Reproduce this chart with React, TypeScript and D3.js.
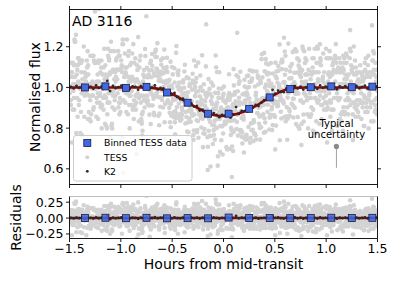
import { useMemo } from "react";
import * as d3 from "d3";

// binned TESS light curve (hours, normalised flux)
const binTimes = [-1.35, -1.15, -0.95, -0.75, -0.55, -0.35, -0.15, 0.05, 0.25, 0.45, 0.65, 0.85, 1.05, 1.25, 1.45];
const binFlux = [1.0, 1.005, 0.998, 1.003, 0.975, 0.925, 0.871, 0.871, 0.895, 0.951, 0.992, 1.001, 1.005, 1.001, 1.004];

// transit model knots
const modelTimes = [-1.5, -0.8, -0.7, -0.6, -0.5, -0.4, -0.3, -0.2, -0.1, 0.0, 0.1, 0.2, 0.3, 0.4, 0.5, 0.6, 0.7, 0.8, 1.5];
const modelFlux = [1.0, 1.0, 0.998, 0.99, 0.968, 0.94, 0.912, 0.885, 0.865, 0.86, 0.866, 0.882, 0.905, 0.935, 0.965, 0.988, 0.998, 1.0, 1.0];

// K2 residuals, milli-flux, in time order over the window
const k2Residuals = [
  3, -5, 8, -2, 6, -9, 1, 4, -7, 10,
  -3, 5, -1, 32, -18, 7, -4, 2, 9, -6,
  0, -8, 5, 3, -11, 6, -2, 8, -5, 1,
  14, -3, 7, 8, 2, 4, -6, 11, -1, -4,
  6, -10, 3, 6, -2, 8, -7, 5, -3, 1,
  -5, 9, 2, -8, 4, -1, 7, -12, 3, 34,
  -4, 6, 1, -7, 10, -2, 5, -9, 0, 4,
  8, -3, 30, 4, 12, -1, -8, 6, 2, -5,
  9, -3, 5, -10, 1, 7, -4, 3, -7, 10,
  -2, 4, -6, 8, 1, -9, 5, -1, 6, -3,
  2, -8, 7, -4, 3, 9, -6, 1, -2, 5,
];

// TESS residuals, two digits each (50.5 = zero); stored by exposure, not by phase
const tessResidualCodes = [
  "48613955447052335846 57426450295347664159 45543862517343563549 60475327584467405263 36554871425750316146",
  "54396549445824534762 41565237694559503457 48634355774051466038 53664549325842615447 39575068445236634855",
  "52446738554961425735 63475370415846285460 39516445563359487243 50623755476641535830 46576940524461365549",
  "64425851265447633956 45605386435038576548 34554662524159684451 57374963455431604766 42535839714856446150",
  "58453661505443674739 55624822574464514059 46695338564860427452 44573563495541665347 61295845526840564863",
  "37545065435946335751 70445539624853604289 49563664475245584055 63415057346146546743 52593848564562275360",
  "47546340574935605244 66425850385547714356 61375346645129594841 55684457396250455336 58486543543260475651",
  "40634955427346583852 57446134534867415950 45563962475443765137 60524658305549644257 48366353445941566947",
  "53415865465037614456 49724355386052476334 57455166405448593662 44532857506442564769 39615245583355496343",
  "54476040675146573159 48624153563864455275 43505835614755426651 57396348445470465937 52604556414962145548",
  "45595038635442574766 36526144554970415853 62473356514360395448 57684552406446593555 50426154482757446351",
  "41564965385360465271 58435537625045675340 64483259465642546149 39575244694758365563 51466053418449564358",
  "60435248653956514562 37584654714257503461 53476441554959305266 44573862504668534055 48635642593554476151",
  "67455239574460509143 55493663475341584664 42565160335448664459 50386245575243704954 46614055486525565147",
  "55476241505836536445 49604356396752465734 61485470425547633851 57442959534562405649 43655137584854614685",
  "52395750446341554760 35546646524259498544 58514062475638536445 50574355316148523967 46536042574944655136",
  "41564963455258376048 54436851465740623355 59475244653956504361 48715542534660365749 64445158285447634152",
  "38594655506743574862 53456039564451834655 42585064375349614556 66475441595235574863 45516240556947534458",
  "57504361475439655245 48625536584451674156 53405947645032574661 45564970435560385348 62375446585142634987",
  "50594452356047554157 39536648564361504564 55465842526940574834 47615156445937546350 58434965465357416026",
  "44605347584055644937 61514557426848543959 50356246565243714755 58414963385460465166 45575230594864435550",
  "63474056536744583652 49615542504659814157 54386548624551563360 46535844695042574863 56395161475466455827",
  "51584264475538604953 46675240574461355648 63504558415470475943 39565162483357456552 55446049536841584637",
  "61485443595088455642 47633855515744624052 58456649543660475364 42555061295748564359 53466241585145675039",
].join("");

const tessResiduals = (tessResidualCodes.replace(/\s/g, "").match(/\d\d/g) ?? []).map(
  (c) => (Number(c) - 50.5) * 0.0115
);

const typicalPoint = { t: 1.1, flux: 0.71, err: 0.105 };

const W = 395;
const H = 282;
const left = 69.5;
const right = 377.5;
const top1 = 9.5;
const bottom1 = 184.5;
const top2 = 196.5;
const bottom2 = 238.5;
const font = "DejaVu Sans, sans-serif";

export default function App() {
  const x = d3.scaleLinear().domain([-1.5, 1.5]).range([left, right]);
  const y1 = d3.scaleLinear().domain([0.523, 1.383]).range([bottom1, top1]);
  const y2 = d3.scaleLinear().domain([-0.322, 0.34]).range([bottom2, top2]);
  const model = d3.scaleLinear().domain(modelTimes).range(modelFlux);

  const data = useMemo(() => {
    const n = tessResiduals.length;
    // exposures from several sectors interleave in phase
    const tess = tessResiduals.map((r, i) => {
      const slot = (i * 97) % n;
      const t = -1.5 + ((slot + 0.5) * 3) / n;
      return { t, r, f: model(t) + r };
    });
    const k2 = k2Residuals.map((m, i) => {
      const t = -1.5 + ((i + 0.5) * 3) / k2Residuals.length;
      const r = m / 1000;
      return { t, r, f: model(t) + r };
    });
    const bins = binTimes.map((t, i) => ({ t, f: binFlux[i], r: binFlux[i] - model(t) }));
    return { tess, k2, bins };
  }, []);

  const modelPts = modelTimes.map((t, i) => [t, modelFlux[i]] as [number, number]);
  const modelPath =
    d3
      .line<[number, number]>()
      .x((d) => x(d[0]))
      .y((d) => y1(d[1]))
      .curve(d3.curveMonotoneX)(modelPts) ?? "";
  const flatPath = `M${left},${y2(0)}H${right}`;

  const xTicks = d3.range(-1.5, 1.51, 0.5);
  const y1Ticks = [0.6, 0.8, 1.0, 1.2];
  const y2Ticks = [-0.25, 0, 0.25];
  const fmt1 = d3.format(".1f");
  const fmt2 = d3.format(".2f");

  const sq = 7;
  const dot = 2.3;
  const tessColor = "#d3d3d3";
  const k2Color = "#2a2a2a";
  const modelColor = "#9a0000";
  const binColor = "#4169e1";

  return (
    <svg width={W} height={H} style={{ position: "absolute", left: 0, top: 0, background: "#fff" }} fontFamily={font}>
      <defs>
        <clipPath id="clip1">
          <rect x={left} y={top1} width={right - left} height={bottom1 - top1} />
        </clipPath>
        <clipPath id="clip2">
          <rect x={left} y={top2} width={right - left} height={bottom2 - top2} />
        </clipPath>
      </defs>

      {/* top panel */}
      <g clipPath="url(#clip1)">
        {data.tess.map((d, i) => (
          <circle key={i} cx={x(d.t)} cy={y1(d.f)} r={dot} fill={tessColor} />
        ))}
        <path d={modelPath} fill="none" stroke={modelColor} strokeWidth={2.6} />
        {data.k2.map((d, i) => (
          <circle key={i} cx={x(d.t)} cy={y1(d.f)} r={1.4} fill={k2Color} />
        ))}
        {data.bins.map((d, i) => (
          <rect
            key={i}
            x={x(d.t) - sq / 2}
            y={y1(d.f) - sq / 2}
            width={sq}
            height={sq}
            fill={binColor}
            stroke="#1a1a40"
            strokeWidth={0.8}
          />
        ))}
        <line
          x1={x(typicalPoint.t)}
          x2={x(typicalPoint.t)}
          y1={y1(typicalPoint.flux)}
          y2={y1(typicalPoint.flux - typicalPoint.err)}
          stroke="#a0a0a0"
          strokeWidth={1}
        />
        <circle cx={x(typicalPoint.t)} cy={y1(typicalPoint.flux)} r={2.6} fill="#8a8a8a" />
      </g>
      <text x={x(typicalPoint.t)} y={126.5} fontSize={10} textAnchor="middle">
        Typical
      </text>
      <text x={x(typicalPoint.t)} y={137.5} fontSize={10} textAnchor="middle">
        uncertainty
      </text>
      <text x={72} y={25.5} fontSize={14}>
        AD 3116
      </text>

      {/* legend */}
      <g>
        <rect x={73.5} y={135.5} width={118.5} height={45.5} rx={2.5} fill="#fff" fillOpacity={0.8} stroke="#cccccc" />
        <rect x={87.3 - 3.5} y={143 - 3.5} width={7} height={7} fill={binColor} stroke="#1a1a40" strokeWidth={0.8} />
        <text x={104} y={146.4} fontSize={9.3}>
          Binned TESS data
        </text>
        <circle cx={87.3} cy={157.3} r={2} fill={tessColor} />
        <text x={104} y={160.7} fontSize={9.3}>
          TESS
        </text>
        <circle cx={87.3} cy={171.3} r={1.4} fill={k2Color} />
        <text x={104} y={174.7} fontSize={9.3}>
          K2
        </text>
      </g>

      {/* top panel frame and ticks */}
      <rect x={left} y={top1} width={right - left} height={bottom1 - top1} fill="none" stroke="#000" strokeWidth={0.9} />
      {xTicks.map((t) => (
        <g key={t}>
          <line x1={x(t)} x2={x(t)} y1={bottom1} y2={bottom1 + 3.5} stroke="#000" strokeWidth={0.9} />
          <line x1={x(t)} x2={x(t)} y1={top1} y2={top1 - 3.5} stroke="#000" strokeWidth={0.9} />
        </g>
      ))}
      {y1Ticks.map((v) => (
        <g key={v}>
          <line x1={left} x2={left - 3.5} y1={y1(v)} y2={y1(v)} stroke="#000" strokeWidth={0.9} />
          <line x1={right} x2={right + 3.5} y1={y1(v)} y2={y1(v)} stroke="#000" strokeWidth={0.9} />
          <text x={63.5} y={y1(v)} dy="0.36em" fontSize={12.5} textAnchor="end">
            {fmt1(v)}
          </text>
        </g>
      ))}
      <text transform={`translate(39.5,${(top1 + bottom1) / 2}) rotate(-90)`} fontSize={14} textAnchor="middle">
        Normalised flux
      </text>

      {/* residual panel */}
      <g clipPath="url(#clip2)">
        {data.tess.map((d, i) => (
          <circle key={i} cx={x(d.t)} cy={y2(d.r)} r={dot} fill={tessColor} />
        ))}
        <path d={flatPath} fill="none" stroke={modelColor} strokeWidth={2.6} />
        {data.k2.map((d, i) => (
          <circle key={i} cx={x(d.t)} cy={y2(d.r)} r={1.4} fill={k2Color} />
        ))}
        {data.bins.map((d, i) => (
          <rect
            key={i}
            x={x(d.t) - sq / 2}
            y={y2(d.r) - sq / 2}
            width={sq}
            height={sq}
            fill={binColor}
            fillOpacity={0.85}
            stroke="#1a1a40"
            strokeWidth={0.8}
          />
        ))}
      </g>
      <line x1={left} x2={right} y1={top2} y2={top2} stroke="#bdbdbd" strokeWidth={1.2} />
      <path d={`M${left},${top2}V${bottom2}H${right}V${top2}`} fill="none" stroke="#000" strokeWidth={0.9} />
      {xTicks.map((t) => (
        <g key={t}>
          <line x1={x(t)} x2={x(t)} y1={bottom2} y2={bottom2 + 3.5} stroke="#000" strokeWidth={0.9} />
          <text x={x(t)} y={253} fontSize={12.5} textAnchor="middle">
            {fmt1(t)}
          </text>
        </g>
      ))}
      {y2Ticks.map((v) => (
        <g key={v}>
          <line x1={left} x2={left - 3.5} y1={y2(v)} y2={y2(v)} stroke="#000" strokeWidth={0.9} />
          <text x={63.5} y={y2(v)} dy="0.36em" fontSize={12.5} textAnchor="end">
            {fmt2(v)}
          </text>
        </g>
      ))}
      <text transform={`translate(20.5,${(top2 + bottom2) / 2}) rotate(-90)`} fontSize={14} textAnchor="middle">
        Residuals
      </text>
      <text x={(left + right) / 2} y={269} fontSize={14} textAnchor="middle">
        Hours from mid-transit
      </text>
    </svg>
  );
}
